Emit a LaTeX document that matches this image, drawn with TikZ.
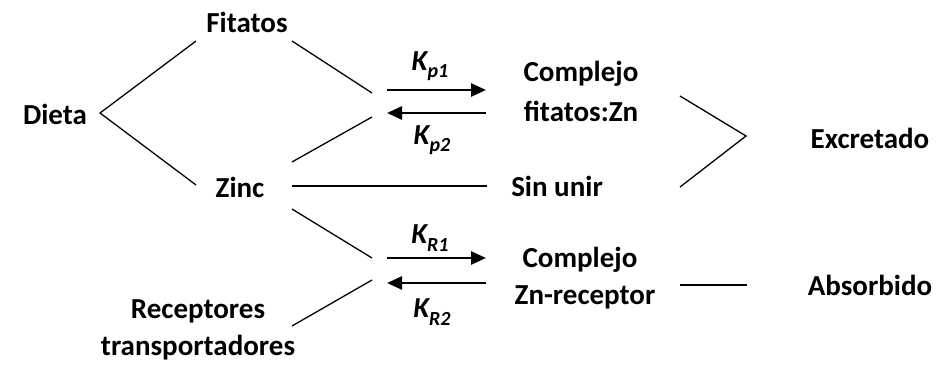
\documentclass[tikz,border=0pt]{standalone}
\usepackage{fontspec}
\setmainfont{Carlito}
\usetikzlibrary{arrows.meta}
\begin{document}
\begin{tikzpicture}[x=1pt,y=-1pt,
  lbl/.style={font=\fontsize{29}{34}\selectfont\bfseries, inner sep=0pt},
  klbl/.style={font=\fontsize{29}{34}\selectfont\bfseries\itshape, inner sep=0pt},
  link/.style={line width=1.3pt},
  rate/.style={line width=2.6pt, -{Triangle[length=15pt,width=13pt]}}]
\useasboundingbox (0,0) rectangle (936,366);
% text nodes
\node[lbl] (dieta) at (55,114) {Dieta};
\node[lbl] (fitatos) at (247,22) {Fitatos};
\node[lbl] (zinc) at (240,187) {Zinc};
\node[lbl] (recep) at (198,311) {Receptores};
\node[lbl] (transp) at (198,348) {transportadores};
\node[lbl] (compA) at (581,74) {Complejo};
\node[lbl] (fitzn) at (581,111) {fitatos:Zn};
\node[lbl] (sinunir) at (557,186) {Sin unir};
\node[lbl] (compB) at (580,260) {Complejo};
\node[lbl] (znrec) at (585,297) {Zn-receptor};
\node[lbl] (excr) at (870,138) {Excretado};
\node[lbl] (absor) at (870,285) {Absorbido};
\node[klbl] (kp1) at (430,66) {K\raisebox{-0.25em}{\fontsize{20}{24}\selectfont p1}};
\node[klbl] (kp2) at (432,140) {K\raisebox{-0.25em}{\fontsize{20}{24}\selectfont p2}};
\node[klbl] (kr1) at (430,238) {K\raisebox{-0.25em}{\fontsize{20}{24}\selectfont R1}};
\node[klbl] (kr2) at (432,312) {K\raisebox{-0.25em}{\fontsize{20}{24}\selectfont R2}};
% connector end points
\coordinate (dv) at (100,113);
\coordinate (dt) at (196,41);
\coordinate (db) at (196,185);
\coordinate (f1) at (292,41);
\coordinate (f2) at (372,93);
\coordinate (z1) at (292,162);
\coordinate (z2) at (372,117);
\coordinate (z3) at (292,186);
\coordinate (z4) at (487,186);
\coordinate (z5) at (292,209);
\coordinate (z6) at (372,258);
\coordinate (r1) at (292,326);
\coordinate (r2) at (372,280);
\coordinate (et) at (680,96);
\coordinate (ev) at (746,136);
\coordinate (eb) at (680,187);
\coordinate (a1) at (680,285);
\coordinate (a2) at (747,285);
\coordinate (p1s) at (387,90);
\coordinate (p1e) at (486,90);
\coordinate (p2s) at (486,113);
\coordinate (p2e) at (387,113);
\coordinate (q1s) at (387,258);
\coordinate (q1e) at (486,258);
\coordinate (q2s) at (486,283);
\coordinate (q2e) at (387,283);
% lines
\draw[link] (dt) -- (dv) -- (db);
\draw[link] (f1) -- (f2);
\draw[link] (z1) -- (z2);
\draw[link] (z3) -- (z4);
\draw[link] (z5) -- (z6);
\draw[link] (r1) -- (r2);
\draw[link] (et) -- (ev) -- (eb);
\draw[link] (a1) -- (a2);
% rate arrows
\draw[rate] (p1s) -- (p1e);
\draw[rate] (p2s) -- (p2e);
\draw[rate] (q1s) -- (q1e);
\draw[rate] (q2s) -- (q2e);
\end{tikzpicture}
\end{document}
